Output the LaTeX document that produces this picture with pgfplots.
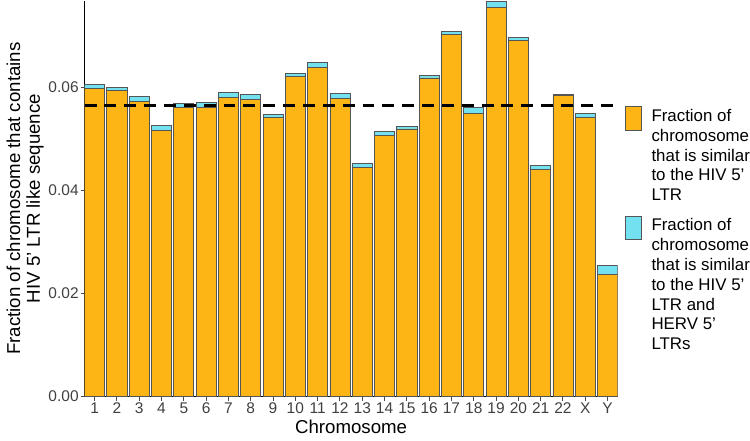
\documentclass[border=0pt]{standalone}
\usepackage{fontspec}
\setmainfont{Liberation Sans}
\usepackage{pgfplots}
\usepackage{pgfplotstable}
\pgfplotsset{compat=1.18}

\definecolor{barorange}{RGB}{253,180,21}
\definecolor{barcyan}{RGB}{115,225,240}
\definecolor{edge}{RGB}{85,85,85}

% x = chromosome position (23 = X, 24 = Y); hiv = orange part, herv = cyan part on top
\pgfplotstableread{
x  hiv     herv
1  0.0598  0.0008
2  0.0593  0.0007
3  0.0573  0.0009
4  0.0516  0.0010
5  0.0561  0.0008
6  0.0560  0.0010
7  0.0581  0.0009
8  0.0577  0.0009
9  0.0542  0.0006
10 0.0621  0.0006
11 0.0638  0.0010
12 0.0578  0.0010
13 0.0444  0.0008
14 0.0507  0.0007
15 0.0519  0.0005
16 0.0618  0.0005
17 0.0703  0.0005
18 0.0550  0.0010
19 0.0754  0.0013
20 0.0691  0.0005
21 0.0440  0.0008
22 0.0584  0.0002
23 0.0541  0.0009
24 0.0237  0.0018
}\chromdata

\begin{document}
\begin{tikzpicture}
\begin{axis}[
    scale only axis,
    width=268.5pt,
    height=199.5pt,
    ybar stacked,
    bar width=0.9,
    xmin=0.55, xmax=24.45,
    ymin=0, ymax=0.0768,
    xtick={1,...,24},
    xticklabels={1,2,3,4,5,6,7,8,9,10,11,12,13,14,15,16,17,18,19,20,21,22,X,Y},
    ytick={0,0.02,0.04,0.06},
    scaled y ticks=false,
    yticklabel style={/pgf/number format/.cd, fixed, fixed zerofill, precision=2},
    /pgf/number format/assume math mode=true,
    axis x line*=bottom,
    axis y line*=left,
    axis line style={-, line width=0.6pt, black},
    tick align=outside,
    major tick length=2pt,
    tick style={line width=0.5pt, black!70},
    tick label style={font=\fontsize{7.8}{8}\selectfont, text=black!75, inner sep=0.8pt},
    label style={font=\fontsize{9.4}{10}\selectfont},
    xlabel={Chromosome},
    ylabel={Fraction of chromosome that contains\\HIV 5' LTR like sequence},
    ylabel style={align=center},
    ylabel shift=-2pt,
    xlabel shift=-1pt,
    legend style={
        at={(rel axis cs:1.013,0.734)},
        anchor=north west,
        draw=none,
        fill=none,
        inner sep=0pt,
        row sep=6pt,
        column sep=5pt,
        nodes={align=left, inner sep=0pt, font=\fontsize{8.5}{10}\selectfont},
        cells={anchor=north west},
    },
    legend image code/.code={\draw[#1] (0pt,-11pt) rectangle (8pt,1pt);},
]
\addplot[fill=barorange, draw=edge, line width=0.4pt] table[x=x, y=hiv] {\chromdata};
\addlegendentry{Fraction of\\chromosome\\that is similar\\to the HIV 5'\\LTR}
\addplot[fill=barcyan, draw=edge, line width=0.4pt] table[x=x, y=herv] {\chromdata};
\addlegendentry{Fraction of\\chromosome\\that is similar\\to the HIV 5'\\LTR and\\HERV 5'\\LTRs}
\end{axis}
% overlay axis for the mean reference line
\begin{axis}[
    scale only axis,
    width=268.5pt,
    height=199.5pt,
    xmin=0.55, xmax=24.45,
    ymin=0, ymax=0.0768,
    hide axis,
]
\addplot[black, line width=1.3pt, dash pattern=on 6pt off 4pt] coordinates {(0.55,0.0564) (24.45,0.0564)};
\end{axis}
\end{tikzpicture}
\end{document}
